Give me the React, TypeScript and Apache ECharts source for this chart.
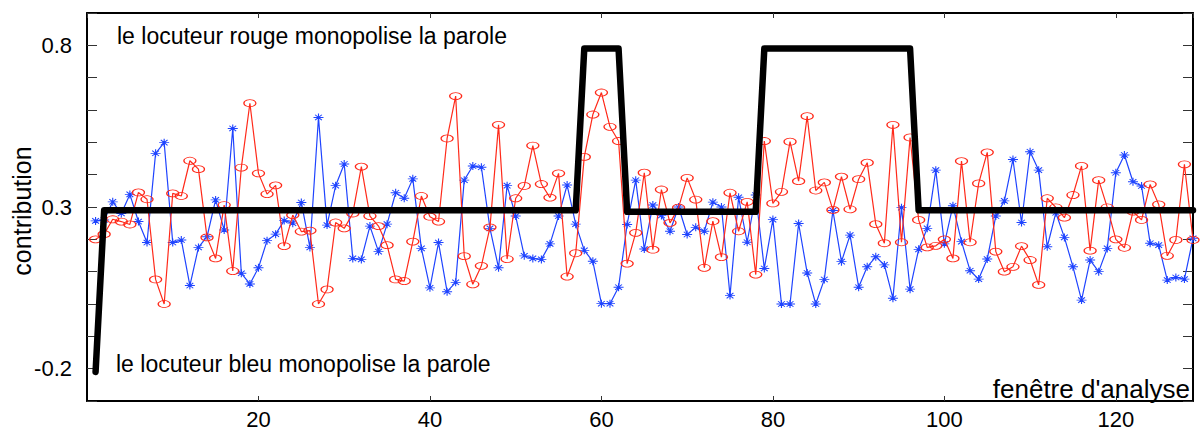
import React, { useEffect, useRef } from "react";
import * as echarts from "echarts";

// contribution of the blue speaker per analysis window (x = 1..129)
const blueValues = [
  0.257, 0.26, 0.316, 0.28, 0.339, 0.255, 0.19, 0.466, 0.499, 0.19,
  0.198, 0.057, 0.175, 0.208, 0.322, 0.229, 0.543, 0.095, 0.062, 0.112,
  0.196, 0.216, 0.258, 0.25, 0.314, 0.175, 0.577, 0.244, 0.366, 0.433,
  0.141, 0.138, 0.241, 0.162, 0.247, 0.344, 0.327, 0.387, 0.172, 0.05,
  0.19, 0.038, 0.067, 0.383, 0.427, 0.423, 0.234, 0.112, 0.366, 0.272,
  0.149, 0.141, 0.138, 0.186, 0.272, 0.368, 0.247, 0.166, 0.132, 0.001,
  0.001, 0.052, 0.246, 0.383, 0.17, 0.306, 0.274, 0.225, 0.3, 0.215,
  0.237, 0.225, 0.315, 0.3, 0.026, 0.33, 0.191, 0.337, 0.11, 0.261,
  0.0, 0.0, 0.249, 0.096, 0.0, 0.076, 0.289, 0.131, 0.213, 0.052,
  0.115, 0.146, 0.121, 0.018, 0.298, 0.046, 0.169, 0.234, 0.414, 0.186,
  0.304, 0.193, 0.103, 0.077, 0.139, 0.272, 0.319, 0.447, 0.252, 0.471,
  0.414, 0.177, 0.282, 0.206, 0.115, 0.012, 0.136, 0.1, 0.172, 0.406,
  0.461, 0.378, 0.365, 0.188, 0.182, 0.074, 0.082, 0.077, 0.203,
];

// contribution of the red speaker per analysis window (x = 1..129)
const redValues = [
  0.2, 0.216, 0.262, 0.255, 0.246, 0.345, 0.324, 0.076, 0.0, 0.342,
  0.334, 0.443, 0.417, 0.206, 0.141, 0.306, 0.102, 0.422, 0.621, 0.404,
  0.34, 0.367, 0.179, 0.275, 0.224, 0.227, 0.0, 0.045, 0.252, 0.234,
  0.28, 0.425, 0.272, 0.241, 0.182, 0.076, 0.071, 0.193, 0.334, 0.27,
  0.255, 0.512, 0.643, 0.148, 0.061, 0.118, 0.237, 0.554, 0.139, 0.327,
  0.365, 0.49, 0.371, 0.329, 0.404, 0.085, 0.157, 0.455, 0.586, 0.654,
  0.548, 0.504, 0.125, 0.22, 0.406, 0.168, 0.354, 0.251, 0.298, 0.39,
  0.323, 0.112, 0.256, 0.145, 0.344, 0.225, 0.316, 0.091, 0.504, 0.311,
  0.347, 0.502, 0.38, 0.581, 0.351, 0.376, 0.291, 0.394, 0.293, 0.386,
  0.437, 0.247, 0.188, 0.554, 0.191, 0.515, 0.26, 0.175, 0.18, 0.2,
  0.141, 0.442, 0.191, 0.373, 0.469, 0.162, 0.1, 0.115, 0.179, 0.136,
  0.059, 0.327, 0.299, 0.267, 0.337, 0.427, 0.165, 0.383, 0.299, 0.2,
  0.174, 0.286, 0.26, 0.37, 0.308, 0.149, 0.198, 0.432, 0.198,
];

// decision curve (breakpoints of the thick black step line)
const decisionX = [1, 2, 57, 58, 62, 63, 78, 79, 96, 97, 129];
const decisionY = [-0.21, 0.29, 0.29, 0.79, 0.79, 0.285, 0.285, 0.79, 0.79, 0.29, 0.29];

const xTickLabels = [20, 40, 60, 80, 100, 120];
const yTickLabels = [-0.2, 0.3, 0.8];

const BLUE = "#1f44ff";
const RED = "#ff2a1a";
const FONT = "Liberation Sans";

const ASTERISK = "path://M5,0L5,10M0,5L10,5M1.6,1.6L8.4,8.4M1.6,8.4L8.4,1.6";

export default function App() {
  const ref = useRef<HTMLDivElement>(null);

  useEffect(() => {
    if (!ref.current) return;
    const chart = echarts.init(ref.current, null, { renderer: "svg" });

    const xs = blueValues.map((_, i) => i + 1);
    const blueData = blueValues.map((v, i) => [xs[i], v]);
    const redData = redValues.map((v, i) => [xs[i], v]);
    const decisionData = decisionX.map((x, i) => [x, decisionY[i]]);

    const yFmt = (v: number) => {
      const t = yTickLabels.find((t) => Math.abs(t - v) < 1e-6);
      return t === undefined ? "" : String(t);
    };
    const xFmt = (v: number) => {
      const t = xTickLabels.find((t) => Math.abs(t - v) < 1e-6);
      return t === undefined ? "" : String(t);
    };

    const tickStyle = { color: "#333", width: 1 };

    chart.setOption({
      animation: false,
      backgroundColor: "#fff",
      grid: { left: 87, right: 7, top: 13, bottom: 33, containLabel: false },
      xAxis: [
        {
          type: "value",
          min: 0,
          max: 129,
          interval: 20,
          axisLine: { show: true, onZero: false, lineStyle: { color: "#000", width: 2 } },
          axisTick: { show: true, inside: true, length: 5, lineStyle: tickStyle },
          axisLabel: {
            show: true,
            formatter: xFmt,
            color: "#000",
            fontSize: 22,
            fontFamily: FONT,
            margin: 7,
            showMinLabel: false,
            showMaxLabel: false,
          },
          splitLine: { show: false },
        },
        {
          type: "value",
          position: "top",
          min: 0,
          max: 129,
          interval: 20,
          axisLine: { show: true, onZero: false, lineStyle: { color: "#000", width: 2 } },
          axisTick: { show: true, inside: true, length: 5, lineStyle: tickStyle },
          axisLabel: { show: false },
          splitLine: { show: false },
        },
      ],
      yAxis: [
        {
          type: "value",
          min: -0.3,
          max: 0.9,
          interval: 0.1,
          axisLine: { show: true, onZero: false, lineStyle: { color: "#000", width: 2 } },
          axisTick: { show: true, inside: true, length: 10, lineStyle: tickStyle },
          axisLabel: {
            show: true,
            formatter: yFmt,
            color: "#000",
            fontSize: 22,
            fontFamily: FONT,
            margin: 15,
          },
          splitLine: { show: false },
        },
        {
          type: "value",
          position: "right",
          min: -0.3,
          max: 0.9,
          interval: 0.1,
          axisLine: { show: true, onZero: false, lineStyle: { color: "#000", width: 2 } },
          axisTick: { show: true, inside: true, length: 10, lineStyle: tickStyle },
          axisLabel: { show: false },
          splitLine: { show: false },
        },
      ],
      series: [
        {
          type: "line",
          name: "bleu",
          data: blueData,
          xAxisIndex: 0,
          yAxisIndex: 0,
          symbol: ASTERISK,
          symbolSize: [10, 8],
          showSymbol: true,
          lineStyle: { color: BLUE, width: 1.2 },
          itemStyle: { color: "rgba(0,0,0,0)", borderColor: BLUE, borderWidth: 1 },
          z: 2,
        },
        {
          type: "line",
          name: "rouge",
          data: redData,
          xAxisIndex: 0,
          yAxisIndex: 0,
          symbol: "circle",
          symbolSize: [12, 7],
          showSymbol: true,
          lineStyle: { color: RED, width: 1.2 },
          itemStyle: { color: "rgba(0,0,0,0)", borderColor: RED, borderWidth: 1 },
          z: 3,
        },
        {
          type: "line",
          name: "decision",
          data: decisionData,
          xAxisIndex: 0,
          yAxisIndex: 0,
          symbol: "none",
          lineStyle: { color: "#000", width: 6.5, cap: "round", join: "round" },
          z: 4,
        },
      ],
      graphic: [
        {
          type: "text",
          x: 117,
          y: 36,
          z: 10,
          style: {
            text: "le locuteur rouge monopolise la parole",
            fontSize: 23,
            fontFamily: FONT,
            fill: "#000",
            align: "left",
            verticalAlign: "middle",
          },
        },
        {
          type: "text",
          x: 116,
          y: 364,
          z: 10,
          style: {
            text: "le locuteur bleu monopolise la parole",
            fontSize: 23,
            fontFamily: FONT,
            fill: "#000",
            align: "left",
            verticalAlign: "middle",
          },
        },
        {
          type: "text",
          x: 1190,
          y: 389,
          z: 10,
          style: {
            text: "fenêtre d'analyse",
            fontSize: 26,
            fontFamily: FONT,
            fill: "#000",
            align: "right",
            verticalAlign: "middle",
          },
        },
        {
          type: "text",
          x: 22,
          y: 211,
          rotation: Math.PI / 2,
          z: 10,
          style: {
            text: "contribution",
            fontSize: 25,
            fontFamily: FONT,
            fill: "#000",
            align: "center",
            verticalAlign: "middle",
          },
        },
      ],
    });

    return () => chart.dispose();
  }, []);

  return (
    <div
      ref={ref}
      style={{ position: "absolute", left: 0, top: 0, width: 1200, height: 434 }}
    />
  );
}
